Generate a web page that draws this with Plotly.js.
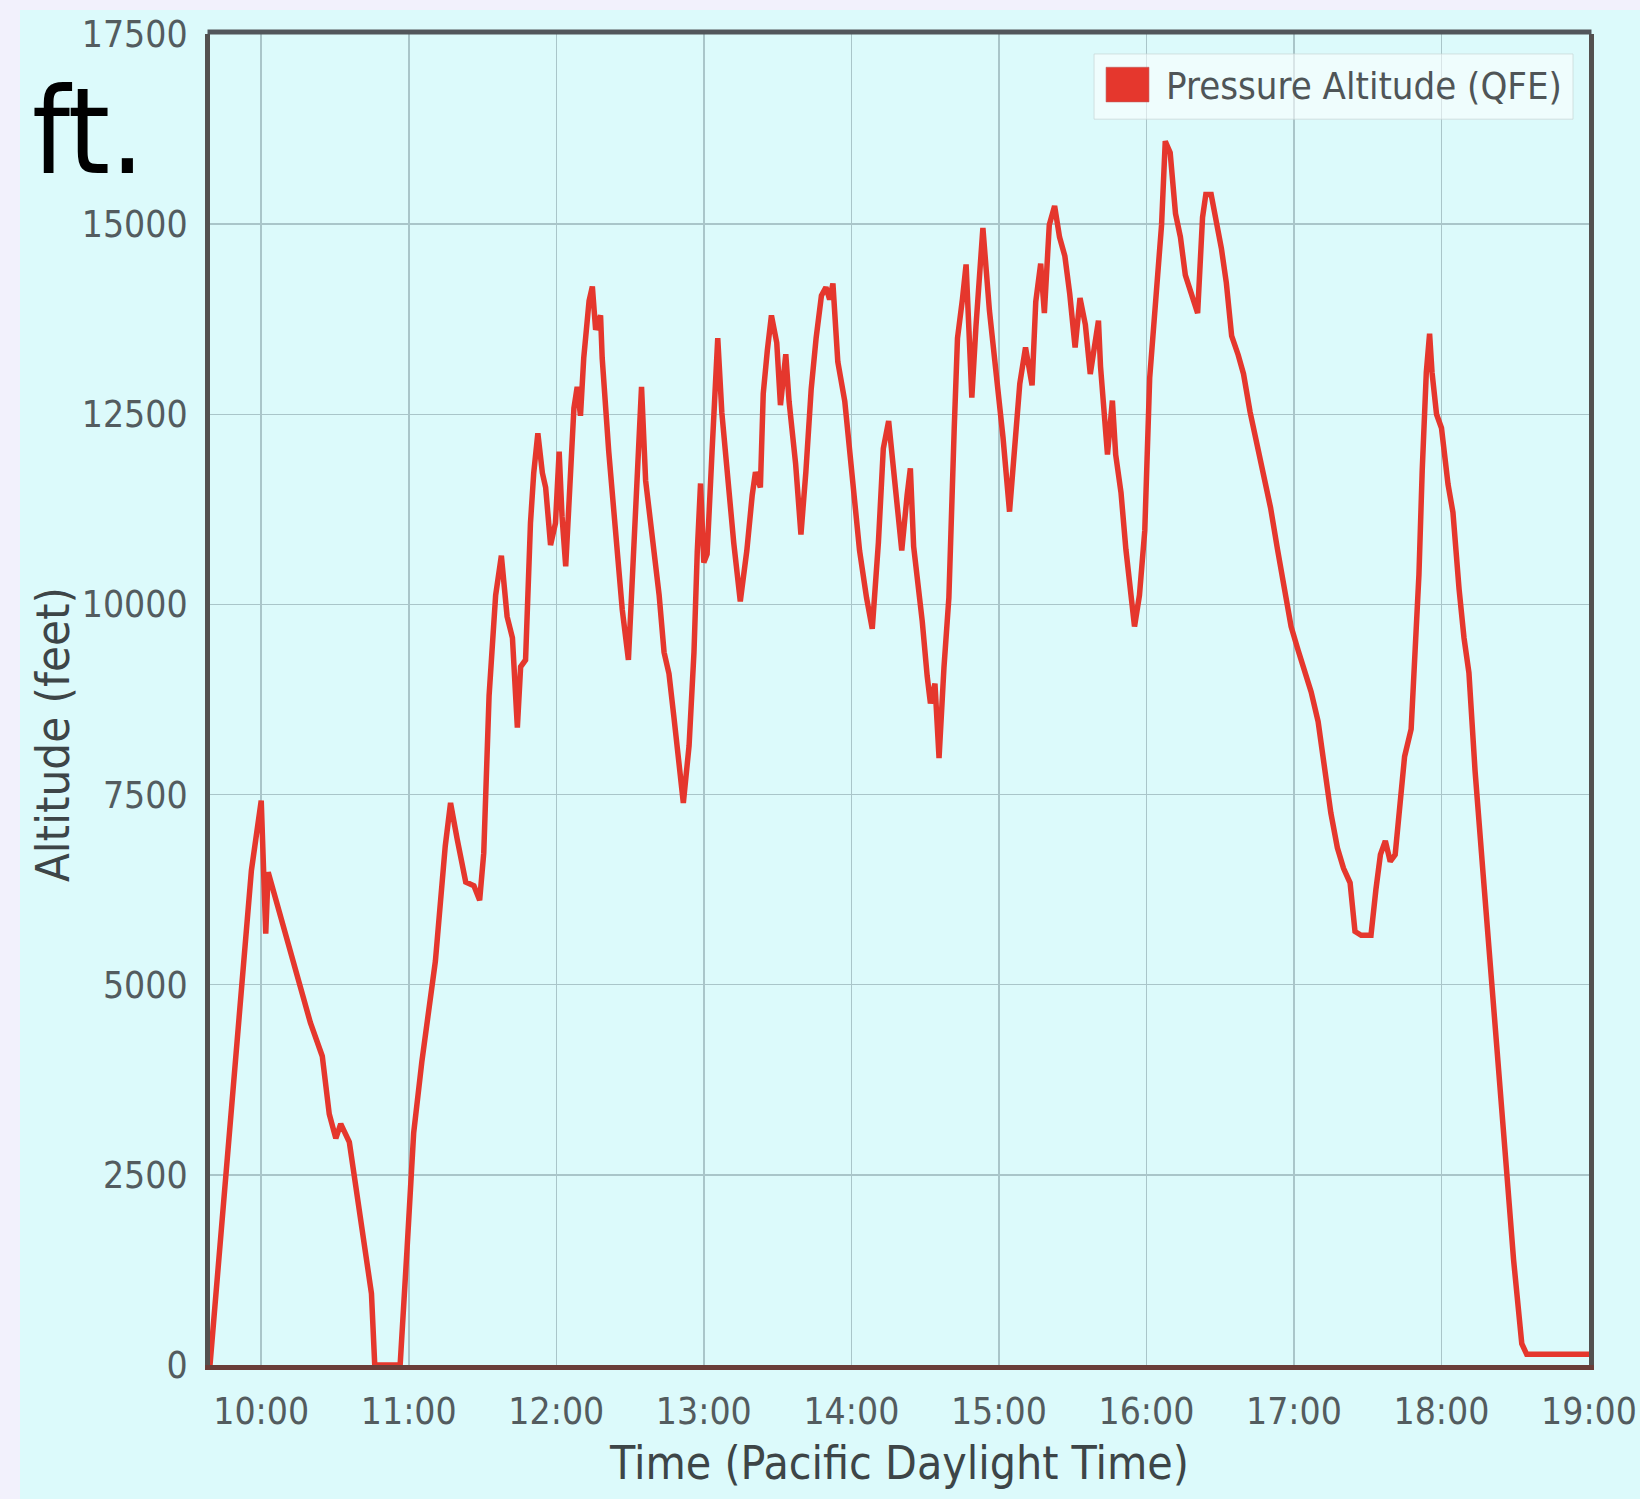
<!DOCTYPE html>
<html>
<head>
<meta charset="utf-8">
<script src="https://cdn.plot.ly/plotly-3.0.1.min.js"></script>
<style>
  html, body { margin: 0; padding: 0; background: #f2f1fc; width: 1640px; height: 1499px; overflow: hidden; }
  #chart { position: absolute; left: 20px; top: 10px; width: 1620px; height: 1489px; }
</style>
</head>
<body>
<div id="chart"></div>
<script>
// ---- data ----
const flightDate = '2015-06-13';
const seriesName = 'Pressure Altitude (QFE)';
const times = [
  '09:39:10','09:45:30','09:51:40','09:56:00','10:00:00','10:00:40','10:01:50','10:02:50','10:06:10','10:10:00',
  '10:15:50','10:20:00','10:24:50','10:27:40','10:30:20','10:32:20','10:35:50','10:37:50','10:41:20','10:44:50',
  '10:46:10','10:56:30','10:59:20','11:02:00','11:05:20','11:10:50','11:14:50','11:17:00','11:19:40','11:23:10',
  '11:26:30','11:28:50','11:30:30','11:32:40','11:35:20','11:37:40','11:40:00','11:42:10','11:44:10','11:45:30',
  '11:47:30','11:49:30','11:50:50','11:52:30','11:54:20','11:55:40','11:57:40','11:59:40','12:01:10','12:02:20',
  '12:03:50','12:05:10','12:07:10','12:08:30','12:09:50','12:11:10','12:13:20','12:14:40','12:16:00','12:18:00',
  '12:18:40','12:21:20','12:24:10','12:26:50','12:29:20','12:30:50','12:32:50','12:34:40','12:36:20','12:39:00',
  '12:41:50','12:43:50','12:45:50','12:47:50','12:49:50','12:51:40','12:54:00','12:56:00','12:57:20','12:58:40',
  '13:00:00','13:01:20','13:03:20','13:05:40','13:07:20','13:09:20','13:12:10','13:14:50','13:17:30','13:19:40',
  '13:21:00','13:23:00','13:24:10','13:25:50','13:27:30','13:29:40','13:31:10','13:33:20','13:34:40','13:37:20',
  '13:39:30','13:41:30','13:43:40','13:45:40','13:47:50','13:49:40','13:51:10','13:52:30','13:54:30','13:57:20',
  '14:00:40','14:03:20','14:06:10','14:08:30','14:11:00','14:13:00','14:15:10','14:17:10','14:19:10','14:20:30',
  '14:22:40','14:24:00','14:25:20','14:27:20','14:28:50','14:30:50','14:32:10','14:34:00','14:35:40','14:37:40',
  '14:39:40','14:41:50','14:43:10','14:45:10','14:46:40','14:47:50','14:49:00','14:50:40','14:53:30','14:56:10',
  '14:58:50','15:01:40','15:04:20','15:06:30','15:08:30','15:10:50','15:13:30','15:15:00','15:17:00','15:18:30',
  '15:20:30','15:22:40','15:24:40','15:26:50','15:28:50','15:31:00','15:33:00','15:35:10','15:37:10','15:40:30',
  '15:41:20','15:44:10','15:46:10','15:47:30','15:49:40','15:51:40','15:53:50','15:55:10','15:57:10','15:59:20',
  '16:01:20','16:03:30','16:04:50','16:06:10','16:07:40','16:09:40','16:11:50','16:13:50','16:15:50','16:18:00',
  '16:20:50','16:22:50','16:24:10','16:26:20','16:28:20','16:30:30','16:32:30','16:34:40','16:37:20','16:39:30',
  '16:42:10','16:45:00','16:47:50','16:50:30','16:53:20','16:56:10','16:58:50','17:01:40','17:04:20','17:07:00',
  '17:09:50','17:12:20','17:15:00','17:17:40','17:20:10','17:22:50','17:24:50','17:27:20','17:31:20','17:33:20',
  '17:35:10','17:37:10','17:39:10','17:41:10','17:43:00','17:45:00','17:47:40','17:49:40','17:50:50','17:52:10',
  '17:53:50','17:55:10','17:56:10','17:58:00','18:00:00','18:02:40','18:04:40','18:07:10','18:09:10','18:11:10',
  '18:13:40','18:17:00','18:20:10','18:23:30','18:26:40','18:29:20','18:31:20','18:32:40','18:34:40','19:00:00'
];
const altitudeFt = [
  0,2500,5000,6500,7420,6900,5670,6480,6100,5650,
  5030,4500,4060,3300,2980,3170,2930,2500,1750,940,
  0,0,1540,3050,3990,5310,6820,7390,6920,6350,
  6300,6110,6730,8800,10120,10640,9840,9560,8380,9180,
  9270,11070,11730,12250,11730,11540,10780,11070,12010,11160,
  10500,11250,12580,12860,12480,13240,13990,14180,13610,13800,
  13240,12010,10880,9930,9270,10220,11820,12860,11630,10880,
  10120,9370,9090,8520,7950,7390,8140,9370,10690,11590,
  10550,10660,12000,13500,12520,11740,10810,10040,10710,11430,
  11740,11540,12770,13340,13800,13440,12620,13290,12670,11850,
  10920,11740,12830,13500,14060,14170,14010,14220,13190,12670,
  11540,10710,10090,9680,10810,12050,12410,11790,11280,10710,
  11430,11790,10760,10250,9780,9060,8700,8960,7980,9170,
  10090,12310,13500,14010,14470,13600,12720,13650,14950,13860,
  13080,12200,11220,12100,12900,13380,12880,13980,14480,13830,
  14990,15240,14830,14580,14080,13380,14030,13680,13030,13730,
  13130,11970,12680,11970,11470,10720,10170,9710,10120,10970,
  12980,13930,14530,14990,16090,15940,15140,14830,14330,14130,
  13830,15090,15390,15390,15090,14680,14230,13530,13280,13030,
  12530,12120,11720,11270,10720,10220,9710,9400,9150,8850,
  8460,7900,7260,6800,6530,6340,5700,5650,5650,6250,
  6710,6890,6620,6710,7260,8000,8360,9650,10390,11760,
  13050,13560,13050,12500,12320,11580,11210,10200,9560,9100,
  7810,6430,5060,3680,2480,1380,740,280,140,140
];
const xRange = ['09:39:10', '19:00:00'];
const yTicks = [0, 2500, 5000, 7500, 10000, 12500, 15000, 17500];
const xTitle = 'Time (Pacific Daylight Time)';
const yTitle = 'Altitude (feet)';
const unitLabel = 'ft.';

// ---- styling ----
const FONT = 'DejaVu Sans Condensed, DejaVu Sans, sans-serif';
const RED = '#e5372d';
const CYAN = '#dcfafb';
const GRID = '#a9c5c9';
const TICKCOL = '#535c5f';
const TITLECOL = '#3d4547';

const trace = {
  type: 'scatter',
  mode: 'lines',
  name: seriesName,
  x: times.map(t => flightDate + ' ' + t),
  y: altitudeFt,
  line: { color: RED, width: 5.5, shape: 'linear' },
  showlegend: false,
  hoverinfo: 'skip'
};

const layout = {
  width: 1620,
  height: 1489,
  margin: { l: 190, r: 51, t: 24, b: 134, pad: 0 },
  paper_bgcolor: CYAN,
  plot_bgcolor: CYAN,
  showlegend: false,
  font: { family: FONT, color: TICKCOL },
  xaxis: {
    type: 'date',
    range: xRange.map(t => flightDate + ' ' + t),
    tick0: flightDate + ' 10:00:00',
    dtick: 3600000,
    tickformat: '%H:%M',
    showgrid: true,
    gridcolor: GRID,
    gridwidth: 1.5,
    zeroline: false,
    showline: true,
    linecolor: '#6a3d38',
    linewidth: 5,
    ticks: '',
    ticklabelstandoff: 10,
    tickfont: { family: FONT, size: 37, color: TICKCOL },
    title: { text: xTitle, font: { family: FONT, size: 46, color: TITLECOL }, standoff: 16 },
    automargin: false,
    fixedrange: true
  },
  yaxis: {
    range: [0, 17500],
    tickvals: yTicks,
    tickformat: 'd',
    showgrid: true,
    gridcolor: GRID,
    gridwidth: 1.5,
    zeroline: false,
    showline: true,
    mirror: true,
    linecolor: '#53504f',
    linewidth: 5,
    ticks: '',
    ticklabelstandoff: 10,
    tickfont: { family: FONT, size: 37, color: TICKCOL },
    automargin: false,
    fixedrange: true
  },
  shapes: [
    // top border of the plot frame
    { type: 'line', xref: 'paper', yref: 'paper', x0: -0.0018, x1: 1.0018, y0: 1.0015, y1: 1.0015,
      line: { color: '#52565b', width: 5 }, layer: 'above' },
    // legend box
    { type: 'rect', xref: 'paper', yref: 'paper', x0: 0.6411, x1: 0.9884, y0: 0.9360, y1: 0.9850,
      fillcolor: 'rgba(255,255,255,0.55)', line: { color: 'rgba(200,212,212,0.7)', width: 1 }, layer: 'above' },
    // legend symbol
    { type: 'rect', xref: 'paper', yref: 'paper', x0: 0.6498, x1: 0.6809, y0: 0.9490, y1: 0.9750,
      fillcolor: RED, line: { color: 'rgba(190,90,90,0.6)', width: 1 }, layer: 'above' }
  ],
  annotations: [
    { text: seriesName, xref: 'paper', yref: 'paper', x: 0.6918, y: 0.9609, xanchor: 'left', yanchor: 'middle',
      showarrow: false, font: { family: FONT, size: 38, color: '#4f5557' } },
    { text: yTitle, xref: 'paper', yref: 'paper', x: -0.1146, y: 0.474, xanchor: 'center', yanchor: 'middle',
      textangle: -90, showarrow: false, font: { family: FONT, size: 47, color: TITLECOL } },
    { text: unitLabel, xref: 'paper', yref: 'paper', x: -0.1305, y: 0.9265, xanchor: 'left', yanchor: 'middle',
      showarrow: false, font: { family: FONT, size: 120, color: '#000000' } }
  ]
};

Plotly.newPlot('chart', [trace], layout, { staticPlot: true, displayModeBar: false });
</script>
</body>
</html>
